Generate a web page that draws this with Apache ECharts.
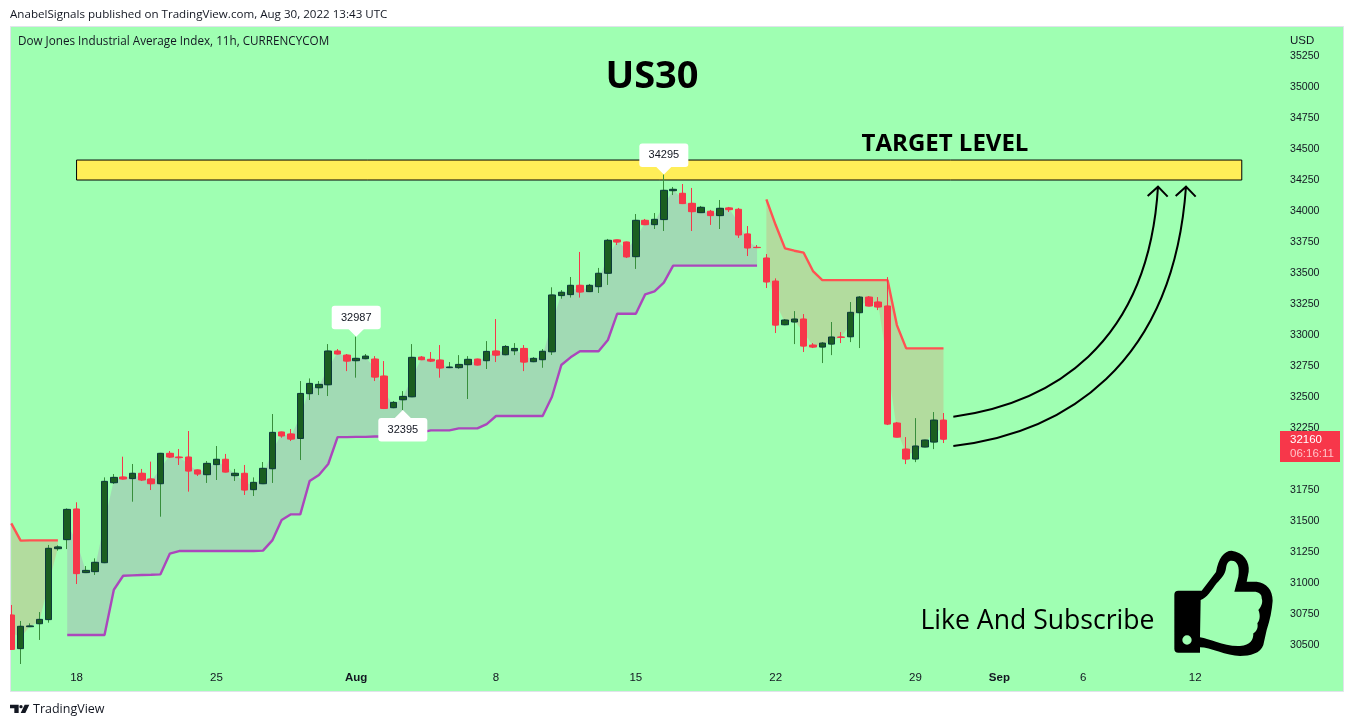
<!DOCTYPE html>
<html>
<head>
<meta charset="utf-8">
<style>html,body{margin:0;padding:0;background:#fff;overflow:hidden}#c{width:1354px;height:727px}</style>
<script src="https://cdn.jsdelivr.net/npm/echarts@6/dist/echarts.min.js"></script>
</head>
<body>
<div id="c"></div>
<script>
const opens = [30742,30471,30648,30672,30705,31277,31350,31597,31084,31092,31164,31809,31855,31842,31885,31839,31801,32046,32016,32016,31912,31874,31955,31998,31866,31885,31753,31801,31922,32218,32202,32166,32527,32575,32599,32871,32838,32793,32809,32806,32669,32414,32478,32502,32822,32804,32798,32737,32737,32761,32806,32793,32871,32841,32873,32892,32785,32801,32865,33318,33326,33401,33350,33390,33498,33767,33750,33632,33925,33890,33931,34164,34143,34062,33987,33998,33963,34025,34014,33815,33707,33621,33435,33083,33105,33129,32919,32903,32927,32984,32986,33180,33306,33266,33234,32290,32080,32000,32097,32137,32314];
const closes = [30465,30651,30654,30707,31280,31291,31594,31076,31102,31167,31820,31852,31839,31885,31831,31801,32046,32016,32011,31903,31879,31965,31998,31895,31885,31750,31812,31925,32215,32186,32161,32529,32610,32602,32871,32847,32790,32812,32830,32661,32408,32457,32505,32820,32801,32790,32734,32742,32763,32804,32758,32868,32838,32908,32892,32782,32812,32869,33323,33345,33401,33347,33401,33498,33764,33750,33630,33925,33890,33933,34167,34175,34060,33995,34030,33963,34022,34011,33807,33702,33705,33428,33080,33121,33129,32911,32903,32935,32984,32981,33183,33306,33234,33226,32282,32177,32000,32105,32153,32314,32160];
const lows = [30465,30347,30645,30541,30680,31261,31274,30992,31081,31065,31164,31799,31836,31656,31823,31750,31535,32008,31952,31737,31863,31807,31831,31895,31823,31710,31702,31801,31807,32172,32145,31992,32476,32516,32508,32847,32709,32656,32806,32629,32403,32411,32395,32502,32801,32782,32656,32737,32728,32484,32758,32726,32782,32838,32838,32709,32782,32736,32839,33293,33302,33302,33347,33339,33404,33726,33621,33533,33888,33855,33839,34129,34060,33839,33984,33888,33855,33992,33783,33637,33702,33379,33016,33080,32927,32863,32895,32774,32838,32935,32943,32895,33234,33201,32274,32177,31959,31975,32097,32080,32129];
const highs = [30823,30694,30675,30766,31307,31304,31602,31651,31137,31199,31852,31879,32019,31960,31920,31979,32046,32065,32081,32226,31912,31984,32105,32041,31920,31952,31852,31976,32363,32218,32242,32629,32650,32629,32927,32887,32847,32987,32847,32830,32790,32468,32548,32927,32830,32863,32919,32782,32838,32830,32806,32951,33129,32919,32935,32919,32822,32887,33385,33363,33468,33670,33412,33541,33775,33767,33750,33976,33936,33984,34295,34194,34218,34186,34041,34009,34089,34033,34025,33879,33726,33653,33457,33129,33193,33169,32935,32943,33105,33024,33266,33314,33314,33306,33467,32298,32177,32330,32153,32379,32371];

const n = null;
const upTrend = [n,n,n,n,n,n,30581,30581,30581,30581,30581,30946,31059,31062,31065,31067,31070,31237,31258,31258,31258,31258,31258,31258,31258,31258,31258,31261,31344,31508,31554,31554,31822,31871,31960,32177,32177,32179,32179,32182,32182,32185,32190,32206,32215,32231,32231,32231,32247,32247,32247,32282,32347,32347,32347,32347,32347,32347,32502,32758,32820,32869,32869,32869,32960,33172,33172,33172,33328,33352,33423,33560,33560,33560,33560,33560,33560,33560,33560,33560,33560,n,n,n,n,n,n,n,n,n,n,n,n,n,n,n,n,n,n,n,n];
const downTrend = [31481,31342,31344,31344,31344,31344,n,n,n,n,n,n,n,n,n,n,n,n,n,n,n,n,n,n,n,n,n,n,n,n,n,n,n,n,n,n,n,n,n,n,n,n,n,n,n,n,n,n,n,n,n,n,n,n,n,n,n,n,n,n,n,n,n,n,n,n,n,n,n,n,n,n,n,n,n,n,n,n,n,n,n,34094,33887,33699,33680,33664,33516,33443,33443,33443,33443,33443,33443,33443,33443,33080,32892,32892,32892,32892,32892];

const yTickValues = [30500,30750,31000,31250,31500,31750,32000,32250,32500,32750,33000,33250,33500,33750,34000,34250,34500,34750,35000,35250];
const xTickValues = [7,22,37,52,67,82,97,106,115,127];
const xTickLabels = ['18','25','Aug','8','15','22','29','Sep','6','12'];
const boldTicks = ['Aug','Sep'];
const callouts = [[37,32987,'above'],[42,32395,'below'],[70,34295,'above']];
const targetZone = {fromBar:7,toBar:132,top:34411,bottom:34250};
const lastPrice = '32160', countdown = '06:16:11';

const upColor='#1b5e20', upEdge='#0d3b3b', upWick='#388e3c', downColor='#f7374a';
const uiFont='"Liberation Sans",Arial,sans-serif', hvFont='"Open Sans",sans-serif';

const arrowPaths=[
  'M40 740 C330 700 625 530 654 50 M623 78 L654 50 L683 80',
  'M40 828 C370 790 700 590 738 50 M707 78 L738 50 L767 80'
];
const thumbPath='M835 182 H905 L948 126 C955 85 972 62 995 62 C1030 66 1050 95 1046 125 L1040 155 H1070 C1100 158 1118 180 1118 212 C1116 240 1110 270 1100 300 L1090 345 C1082 370 1050 378 1020 378 C980 378 930 352 900 352 L900 368 H835 Q823 368 823 356 V194 Q823 182 835 182 Z M900 322 C930 326 970 350 1020 348 C1052 346 1060 330 1060 310 C1074 302 1074 288 1072 280 C1082 268 1080 250 1075 240 C1088 226 1088 212 1085 205 C1086 192 1075 185 1062 185 H1003 L1015 140 C1020 110 1012 92 995 92 C985 92 980 100 978 115 C976 132 965 145 950 160 C935 180 920 205 902 210 Z M847 330 A14 14 0 1 0 875 330 A14 14 0 1 0 847 330 Z';
const logoPath='M30 29 H56 V54 H43 V40 H30 Z M58 35 A5 5 0 1 0 68 35 A5 5 0 1 0 58 35 Z M88 29 L76 54 H62 L74 29 Z';

function runsOf(trend,color){
  const r=[];let s=-1;
  for(let i=0;i<=trend.length;i++){
    const ok=i<trend.length&&trend[i]!==null;
    if(ok&&s<0)s=i;
    if(!ok&&s>=0){r.push({from:s,to:i-1,trend,color});s=-1;}
  }
  return r;
}
const fillRuns=[...runsOf(upTrend,'rgba(171,71,188,0.2)'),...runsOf(downTrend,'rgba(255,82,82,0.2)')];

const chart=echarts.init(document.getElementById('c'),null,{renderer:'canvas'});
chart.setOption({
  animation:false,
  graphic:[
    {type:'rect',z:-5,silent:true,shape:{x:10.5,y:26.5,width:1333,height:665},style:{fill:'#9fffb2',stroke:'#e0e3eb',lineWidth:1}},
    {type:'rect',z:8,silent:true,shape:{x:0,y:27,width:10,height:665},style:{fill:'#fff'}},
    {type:'text',x:10,y:15,style:{text:'AnabelSignals published on TradingView.com, Aug 30, 2022 13:43 UTC',font:'11.6px '+hvFont,fill:'#131722',textVerticalAlign:'middle'}},
    {type:'text',x:18,y:41.5,z:5,style:{text:'Dow Jones Industrial Average Index, 11h, CURRENCYCOM',font:'11.7px '+hvFont,fill:'#131722',textVerticalAlign:'middle'}},
    {type:'text',x:1290,y:41,z:5,style:{text:'USD',font:'11.5px '+uiFont,fill:'#131722',textVerticalAlign:'middle'}},
    {type:'text',x:652,y:77.5,z:20,style:{text:'US30',font:'bold 38px '+hvFont,fill:'#000',textAlign:'center',textVerticalAlign:'middle'}},
    {type:'text',x:945,y:144,z:20,style:{text:'TARGET LEVEL',font:'bold 24px '+hvFont,fill:'#000',textAlign:'center',textVerticalAlign:'middle'}},
    {type:'text',x:1037.5,y:621,z:20,style:{text:'Like And Subscribe',font:'26.6px '+hvFont,fill:'#000',textAlign:'center',textVerticalAlign:'middle'}},
    {type:'rect',z:30,silent:true,shape:{x:1280,y:431,width:60,height:31},style:{fill:downColor}},
    {type:'text',z:31,x:1290,y:439.5,style:{text:lastPrice,font:'11.5px '+uiFont,fill:'#fff',textVerticalAlign:'middle'}},
    {type:'text',z:31,x:1290,y:453.5,style:{text:countdown,font:'11.5px '+uiFont,fill:'#ffc2c7',textVerticalAlign:'middle'}},
    {type:'text',x:33,y:709.5,style:{text:'TradingView',font:'12.5px '+hvFont,fill:'#131722',textVerticalAlign:'middle'}}
  ],
  grid:{left:10,right:74,top:28,height:637,containLabel:false},
  xAxis:{type:'value',min:-0.14,max:136.1,splitLine:{show:false},axisLine:{show:false},axisTick:{show:false},
    axisLabel:{customValues:xTickValues,margin:7,color:'#131722',fontFamily:uiFont,fontSize:11.5,
      formatter:v=>{const t=xTickLabels[xTickValues.indexOf(v)];return boldTicks.includes(t)?'{b|'+t+'}':t;},
      rich:{b:{fontWeight:'bold',fontFamily:uiFont,fontSize:11.5,color:'#131722'}}}},
  yAxis:{type:'value',position:'right',min:30339,max:35476,scale:true,splitLine:{show:false},axisLine:{show:false},axisTick:{show:false},
    axisLabel:{customValues:yTickValues,margin:10,align:'left',fontFamily:uiFont,fontSize:10.6,padding:[3,0,0,0],formatter:v=>String(v),color:v=>v===35250?'#6b8f78':'#131722'}},
  series:[
    {type:'line',data:[],z:1,silent:true,markArea:{silent:true,itemStyle:{color:'#ffee58',borderColor:'#000',borderWidth:1,opacity:1},
      data:[[{coord:[targetZone.fromBar,targetZone.top]},{coord:[targetZone.toBar,targetZone.bottom]}]]}},
    {type:'custom',z:2,silent:true,clip:true,coordinateSystem:'cartesian2d',data:fillRuns.map((r,i)=>[i]),encode:{x:0},
      renderItem(params,api){
        const r=fillRuns[params.dataIndex],lo=[],hi=[];
        for(let i=r.from;i<=r.to;i++){
          lo.push(api.coord([i,r.trend[i]]));
          hi.unshift(api.coord([i,(opens[i]+closes[i])/2]));
        }
        return {type:'polygon',shape:{points:lo.concat(hi)},style:{fill:r.color},silent:true};
      }},
    {type:'line',z:3,silent:true,data:upTrend.map((v,i)=>[i,v]),showSymbol:false,connectNulls:false,lineStyle:{color:'#ab47bc',width:2.4}},
    {type:'line',z:3,silent:true,data:downTrend.map((v,i)=>[i,v]),showSymbol:false,connectNulls:false,lineStyle:{color:'#ff5252',width:2.4}},
    {type:'candlestick',z:4,silent:true,barWidth:3,data:opens.map((o,i)=>[i,o,closes[i],lows[i],highs[i]]),encode:{x:0,y:[1,2,3,4]},
      itemStyle:{color:upWick,color0:downColor,borderColor:upWick,borderColor0:downColor,borderWidth:1}},
    {type:'candlestick',z:5,silent:true,barWidth:7,data:opens.map((o,i)=>[i,o,closes[i],Math.min(o,closes[i]),Math.max(o,closes[i])]),encode:{x:0,y:[1,2,3,4]},
      itemStyle:{color:upColor,color0:downColor,borderColor:upEdge,borderColor0:downColor,borderWidth:1}},
    {type:'custom',z:10,silent:true,clip:false,data:callouts,encode:{x:0,y:1},
      renderItem(params,api){
        const p=api.coord([api.value(0),api.value(1)]),above=callouts[params.dataIndex][2]==='above',s=above?-1:1;
        const y0=above?p[1]-31:p[1]+8,cx=p[0];
        return {type:'group',children:[
          {type:'rect',shape:{x:cx-24.5,y:y0,width:49,height:23.5,r:3},style:{fill:'#fff'}},
          {type:'polygon',shape:{points:[[cx,p[1]],[cx-8.5,p[1]+s*8.5],[cx+8.5,p[1]+s*8.5]]},style:{fill:'#fff'}},
          {type:'text',style:{x:cx,y:y0+12,text:String(api.value(1)),textAlign:'center',textVerticalAlign:'middle',font:'11px '+uiFont,fill:'#131722'}}
        ]};
      }},
    {type:'custom',z:20,silent:true,clip:false,data:[[0,31000]],encode:{x:0,y:1},
      renderItem(){
        const big=1/3;
        return {type:'group',children:[
          ...arrowPaths.map(d=>({type:'path',x:940,y:170,scaleX:big,scaleY:big,shape:{pathData:d},style:{fill:null,stroke:'#000',lineWidth:6}})),
          {type:'path',x:900,y:530,scaleX:big,scaleY:big,shape:{pathData:thumbPath},style:{fill:'#000'}},
          {type:'path',x:0,y:695,scaleX:big,scaleY:big,shape:{pathData:logoPath},style:{fill:'#131722'}}
        ]};
      }}
  ]
});
</script>
</body>
</html>
